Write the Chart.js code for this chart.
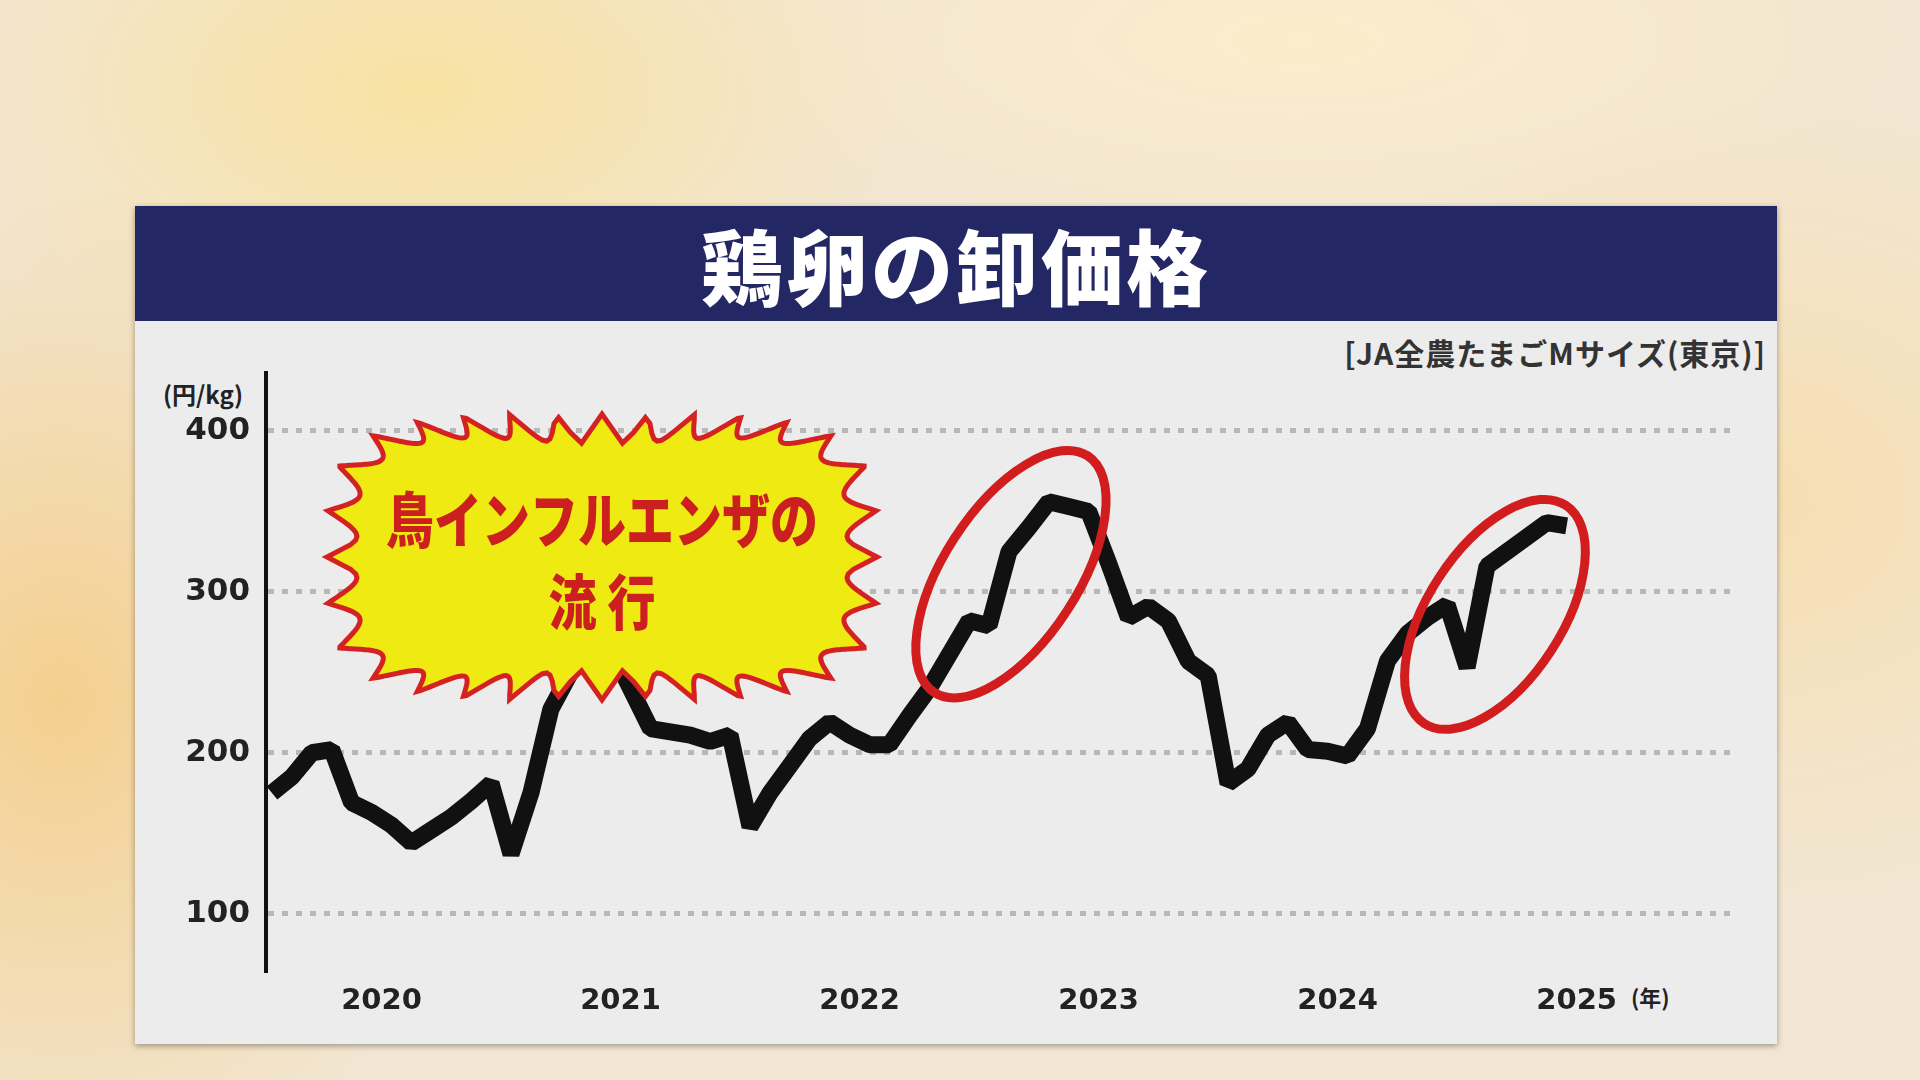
<!DOCTYPE html>
<html>
<head>
<meta charset="utf-8">
<script src="https://cdn.jsdelivr.net/npm/chart.js@4.4.1/dist/chart.umd.min.js"></script>
<style>
  body { margin: 0; width: 1920px; height: 1080px; overflow: hidden;
    font-family: "Noto Sans CJK JP", "Noto Sans", sans-serif;
    background:
      radial-gradient(ellipse 420px 520px at 60px 700px, rgba(245,200,120,0.75), rgba(245,200,120,0) 100%),
      radial-gradient(ellipse 500px 300px at 420px 90px, rgba(250,225,150,0.8), rgba(250,225,150,0) 100%),
      radial-gradient(ellipse 500px 400px at 1750px 500px, rgba(250,215,150,0.55), rgba(250,215,150,0) 100%),
      radial-gradient(ellipse 600px 200px at 1300px 40px, rgba(255,240,200,0.7), rgba(255,240,200,0) 100%),
      #f2e6d2;
  }
  #panel { position: absolute; left: 135px; top: 206px; width: 1642px; height: 838px;
    background: #ececec; box-shadow: 0 2px 6px rgba(0,0,0,0.35); }
  #titlebar { position: absolute; left: 0; top: 0; width: 100%; height: 115px; background: #232763;
    color: #fff; font-weight: 900; font-size: 82px; text-align: center; line-height: 115px; letter-spacing: 3px; }
  #source { position: absolute; right: 11px; top: 124px; font-size: 30px; font-weight: 700; color: #333; letter-spacing: 1px; }
  #unit { position: absolute; left: 28px; top: 170px; font-size: 24px; font-weight: 700; color: #222; }
  #nen { position: absolute; left: 1496px; top: 774px; font-size: 22px; font-weight: 700; color: #222; }
  #wrap { position: absolute; left: 0; top: 115px; width: 1642px; height: 723px; }
</style>
</head>
<body>
<div id="panel">
  <div id="titlebar">鶏卵の卸価格</div>
  <div id="source">[JA全農たまごMサイズ(東京)]</div>
  <div id="unit">(円/kg)</div>
  <div id="nen">(年)</div>
  <div id="wrap"><canvas id="eggChart" width="1642" height="723"></canvas></div>
</div>
<script>
// monthly wholesale price, Jan 2020 - Jun 2025 (yen/kg)
const prices2020 = [175, 185, 200, 202, 169, 163, 155, 144, 152, 160, 170, 181];
const prices2021 = [137, 175, 227, 250, 265, 265, 240, 215, 213, 211, 207, 211];
const prices2022 = [154, 175, 192, 209, 219, 211, 205, 205, 223, 240, 261, 282];
const prices2023 = [279, 325, 340, 356, 353, 350, 318, 284, 291, 282, 257, 248];
const prices2024 = [181, 190, 211, 219, 202, 201, 198, 215, 257, 274, 284, 292];
const prices2025 = [253, 316, 325, 334, 343, 341];
const yearLabels = ['2020', '2021', '2022', '2023', '2024', '2025'];
const yTicks = [100, 200, 300, 400];

const prices = [].concat(prices2020, prices2021, prices2022, prices2023, prices2024, prices2025);
const points = prices.map((v, i) => ({ x: i, y: v }));

// annotation ellipses, centred in data coords
const circles = [
    { x: 37.1, y: 311, rx: 141, ry: 67, rot: -57 },
    { x: 61.4, y: 286, rx: 130, ry: 67, rot: -57 }
];

function drawBurst(ctx) {
    const cx = 467, cy = 236, a = 275, b = 143, n = 4;
    // superellipse outline, sampled densely
    const base = [];
    for (let i = 0; i <= 720; i++) {
        const t = i / 720 * Math.PI * 2;
        const c = Math.cos(t), s = Math.sin(t);
        base.push([cx + a * Math.sign(c) * Math.pow(Math.abs(c), 2 / n),
                   cy + b * Math.sign(s) * Math.pow(Math.abs(s), 2 / n)]);
    }
    let len = [0];
    for (let i = 1; i < base.length; i++) {
        len.push(len[i - 1] + Math.hypot(base[i][0] - base[i - 1][0], base[i][1] - base[i - 1][1]));
    }
    const L = len[len.length - 1], spikes = 32;
    ctx.beginPath();
    base.forEach((p, i) => {
        const d = 30 * Math.abs(Math.sin(Math.PI * spikes * len[i] / L));
        const dx = cx - p[0], dy = cy - p[1], m = Math.hypot(dx, dy);
        const x = p[0] + dx / m * d, y = p[1] + dy / m * d;
        i ? ctx.lineTo(x, y) : ctx.moveTo(x, y);
    });
    ctx.closePath();
    ctx.fillStyle = '#eeea12';
    ctx.fill();
    ctx.lineWidth = 5;
    ctx.strokeStyle = '#d42222';
    ctx.stroke();
    ctx.fillStyle = '#cc1f1f';
    ctx.textAlign = 'center';
    ctx.textBaseline = 'middle';
    ctx.font = '900 60px "Noto Sans CJK JP"';
    ctx.translate(cx, 0);
    ctx.scale(0.8, 1);
    ctx.fillText('鳥インフルエンザの', 0, 199);
    ctx.fillText('流 行', 0, 281);
}

const annotations = {
    id: 'annotations',
    afterDatasetsDraw(chart) {
        const ctx = chart.ctx;
        const xs = chart.scales.x, ys = chart.scales.y;
        ctx.save();
        circles.forEach(c => {
            ctx.beginPath();
            ctx.ellipse(xs.getPixelForValue(c.x), ys.getPixelForValue(c.y), c.rx, c.ry,
                c.rot * Math.PI / 180, 0, Math.PI * 2);
            ctx.lineWidth = 9;
            ctx.strokeStyle = '#d11d1d';
            ctx.stroke();
        });
        drawBurst(ctx);
        ctx.restore();
    }
};

new Chart(document.getElementById('eggChart'), {
    type: 'line',
    data: {
        datasets: [{
            data: points,
            borderColor: '#111',
            borderWidth: 17,
            pointRadius: 0,
            tension: 0,
            borderJoinStyle: 'bevel'
        }]
    },
    options: {
        responsive: false,
        animation: false,
        layout: { padding: { left: 0, top: 52, right: 47, bottom: 0 } },
        plugins: { legend: { display: false }, tooltip: { enabled: false } },
        scales: {
            x: {
                type: 'linear',
                min: -0.3,
                max: 73.2,
                afterFit(s) { s.height = 74; },
                afterBuildTicks(s) { s.ticks = yearLabels.map((_, i) => ({ value: 5.5 + 12 * i })); },
                ticks: {
                    autoSkip: false, maxRotation: 0, padding: 6,
                    color: '#222', font: { family: 'DejaVu Sans', size: 29, weight: 'bold' },
                    callback: (v) => yearLabels[Math.round((v - 5.5) / 12)]
                },
                grid: { display: false },
                border: { display: false }
            },
            y: {
                min: 65,
                max: 436,
                afterFit(s) { s.width = 131; },
                afterBuildTicks(s) { s.ticks = yTicks.map(v => ({ value: v })); },
                ticks: {
                    padding: 16, color: '#222',
                    font: { family: 'DejaVu Sans', size: 31, weight: 'bold' }
                },
                grid: { color: '#b8b8b8', lineWidth: 5, drawTicks: false },
                border: { display: true, color: '#111', width: 4, dash: [6, 8] }
            }
        }
    },
    plugins: [annotations]
});
</script>
</body>
</html>
